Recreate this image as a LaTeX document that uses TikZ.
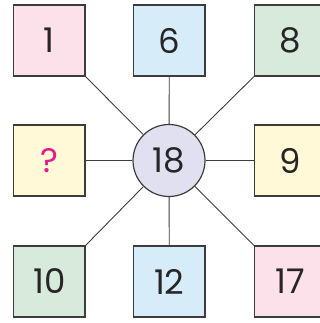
\documentclass[tikz,border=0pt]{standalone}
\usepackage{fontspec}
\setmainfont{Poppins}
\definecolor{bpink}{HTML}{FCE0EA}
\definecolor{bblue}{HTML}{D6ECF9}
\definecolor{bgreen}{HTML}{D7EADC}
\definecolor{byellow}{HTML}{FFF9D8}
\definecolor{blav}{HTML}{E1E0F0}
\definecolor{edge}{HTML}{3C3C3C}
\definecolor{qmark}{HTML}{E8198B}
\begin{document}
\begin{tikzpicture}[x=1pt,y=-1pt,
  numbox/.style={draw=edge,line width=1.2pt,minimum width=71.5pt,minimum height=71pt,inner sep=0pt,font=\fontsize{34}{34}\selectfont,text=black!85},
  hub/.style={circle,draw=edge,line width=1.2pt,fill=blav,minimum size=72pt,inner sep=0pt,font=\fontsize{34}{34}\selectfont,text=black!85},
  spoke/.style={draw=edge,line width=0.9pt}]
\useasboundingbox (0,0) rectangle (320,323);
\clip (0,0) rectangle (320,323);
\node[hub] (c) at (169,160.5) {18};
\node[numbox,fill=bpink] (tl) at (49.25,40.5) {1};
\node[numbox,fill=bblue] (tm) at (169.25,40.5) {6};
\node[numbox,fill=bgreen] (tr) at (290.25,40.5) {8};
\node[numbox,fill=byellow] (ml) at (49.25,160.5) {\textcolor{qmark}{?}};
\node[numbox,fill=byellow] (mr) at (290.25,160.5) {9};
\node[numbox,fill=bgreen] (bl) at (49.25,281.5) {10};
\node[numbox,fill=bblue] (bm) at (169.25,281.5) {12};
\node[numbox,fill=bpink] (br) at (290.25,281.5) {17};
\draw[spoke] (c) -- (tl.south east);
\draw[spoke] (c) -- (tm.south);
\draw[spoke] (c) -- (tr.south west);
\draw[spoke] (c) -- (ml.east);
\draw[spoke] (c) -- (mr.west);
\draw[spoke] (c) -- (bl.north east);
\draw[spoke] (c) -- (bm.north);
\draw[spoke] (c) -- (br.north west);
\end{tikzpicture}
\end{document}
